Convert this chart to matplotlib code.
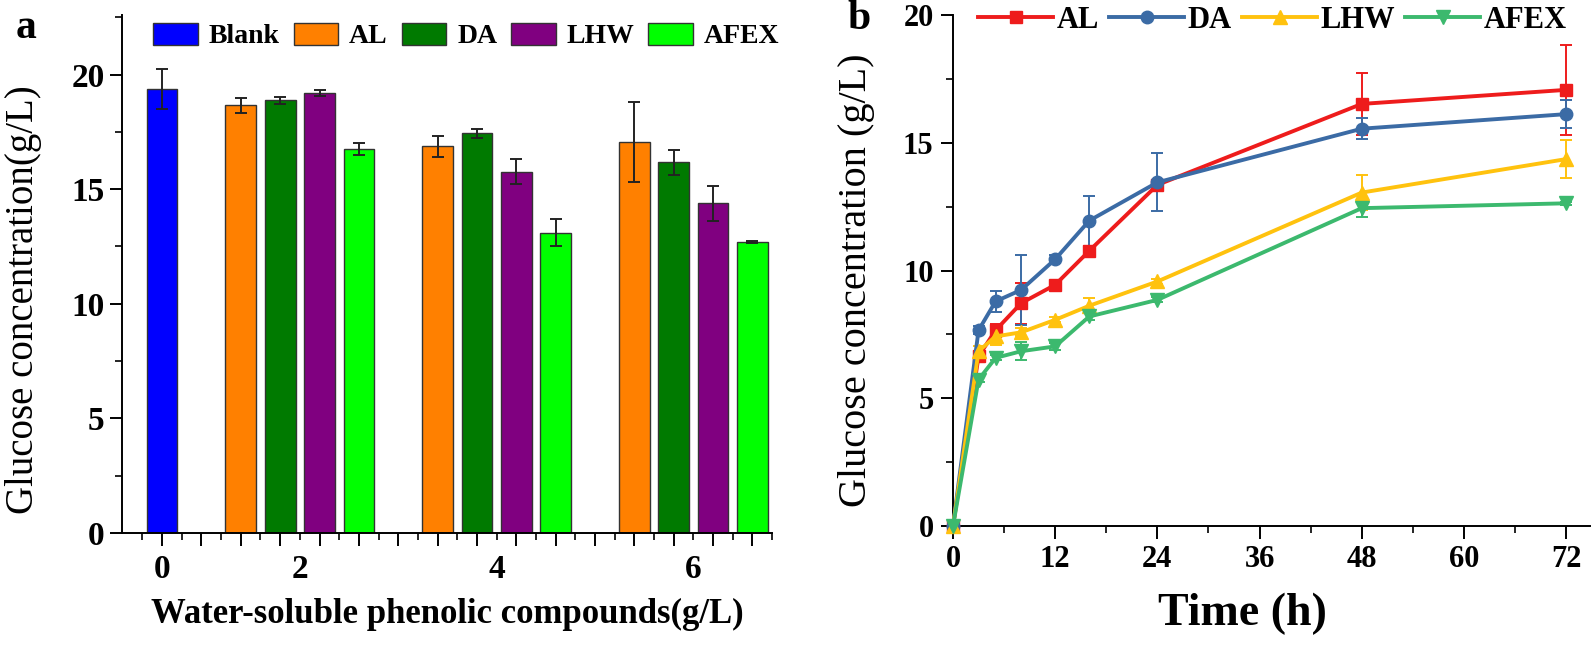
import numpy as np
import matplotlib
matplotlib.use("Agg")
import matplotlib.pyplot as plt
from matplotlib.ticker import MultipleLocator
from matplotlib.transforms import blended_transform_factory
from matplotlib.lines import Line2D

plt.rcParams['font.family'] = ['Liberation Serif', 'DejaVu Serif']

# ---------------- Panel a data ----------------
group_labels = ['0', '2', '4', '6']
bar_series = ['Blank', 'AL', 'DA', 'LHW', 'AFEX']
blank_mean = [19.38]
blank_err = [0.87]
al_bar = [18.66, 16.87, 17.06]
al_bar_err = [0.34, 0.45, 1.73]
da_bar = [18.87, 17.44, 16.17]
da_bar_err = [0.17, 0.19, 0.54]
lhw_bar = [19.20, 15.76, 14.38]
lhw_bar_err = [0.13, 0.55, 0.76]
afex_bar = [16.75, 13.10, 12.69]
afex_bar_err = [0.26, 0.59, 0.03]

# ---------------- Panel b data ----------------
time_h = [0, 3, 5, 8, 12, 16, 24, 48, 72]
al_line = [0, 6.64, 7.66, 8.72, 9.44, 10.77, 13.35, 16.52, 17.07]
al_line_err = [0, 0.15, 0.25, 0.80, 0.10, 0.15, 0.15, 1.20, 1.75]
da_line = [0, 7.66, 8.79, 9.24, 10.44, 11.95, 13.45, 15.55, 16.12]
da_line_err = [0, 0.15, 0.40, 1.38, 0.15, 0.98, 1.13, 0.40, 0.55]
lhw_line = [0, 6.84, 7.42, 7.58, 8.07, 8.62, 9.57, 13.05, 14.36]
lhw_line_err = [0, 0.20, 0.35, 0.15, 0.10, 0.30, 0.10, 0.70, 0.75]
afex_line = [0, 5.73, 6.58, 6.84, 7.03, 8.20, 8.85, 12.44, 12.63]
afex_line_err = [0, 0.10, 0.10, 0.35, 0.15, 0.15, 0.10, 0.35, 0.05]
line_series = ['AL', 'DA', 'LHW', 'AFEX']

W, H = 1595, 645
fig = plt.figure(figsize=(W / 100, H / 100), dpi=100)

# ================= Panel a =================
axa = fig.add_axes([122 / W, 1 - 533 / H, (772 - 122) / W, (533 - 15) / H])
bar_colors = ['#0000FF', '#FF8000', '#007A00', '#800080', '#00FF00']
bw = 0.78
ekw = dict(ecolor='#222222', elinewidth=1.4, capsize=4, capthick=1.4)
# Blank at slot 0; groups of four bars start at slots 2, 7, 12
axa.bar([0], blank_mean, bw, yerr=blank_err, color=bar_colors[0],
        edgecolor='#333333', linewidth=1, label='Blank', error_kw=ekw)
group_start = np.array([2, 7, 12])
vals = [al_bar, da_bar, lhw_bar, afex_bar]
errs = [al_bar_err, da_bar_err, lhw_bar_err, afex_bar_err]
for i, (v, e) in enumerate(zip(vals, errs)):
    axa.bar(group_start + i, v, bw, yerr=e, color=bar_colors[i + 1],
            edgecolor='#333333', linewidth=1, label=bar_series[i + 1], error_kw=ekw)

axa.set_xlim(-1.02, 15.5)
axa.set_ylim(0, 22.6)
axa.spines['top'].set_visible(False)
axa.spines['right'].set_visible(False)
for s in ['left', 'bottom']:
    axa.spines[s].set_linewidth(1.4)
axa.set_xticks(np.arange(0, 16))
axa.set_xticks(np.arange(-0.5, 15.6, 1.0), minor=True)
axa.set_xticklabels([])
axa.yaxis.set_major_locator(MultipleLocator(5))
axa.yaxis.set_minor_locator(MultipleLocator(2.5))
axa.tick_params(axis='both', which='major', direction='out', length=9, width=1.4,
                labelsize=24)
axa.tick_params(axis='both', which='minor', direction='out', length=5, width=1.2)
for lab in axa.get_yticklabels():
    lab.set_fontweight('bold')
trans = blended_transform_factory(axa.transData, axa.transAxes)
label_pos = [0] + list(group_start + 1.5)
for p, t in zip(label_pos, group_labels):
    axa.text(p, -0.04, t, transform=trans, ha='center', va='top',
             fontsize=24, fontweight='bold')
axa.set_ylabel('Glucose concentration(g/L)', fontsize=28)
axa.yaxis.set_label_coords(-0.123, 0.45)
axa.set_xlabel('Water-soluble phenolic compounds(g/L)', fontsize=25,
               fontweight='bold')
axa.xaxis.set_label_coords(0.5, -0.125)
axa.legend(ncol=5, loc='upper left', bbox_to_anchor=(0.048, 0.985),
           frameon=False, prop={'size': 20, 'weight': 'bold'},
           handlelength=1.6, handleheight=0.85, handletextpad=0.4,
           columnspacing=0.5, borderaxespad=0.0, borderpad=0.0)
fig.text(16 / W, 1 - 28 / H, 'a', fontsize=30, fontweight='bold', va='center')

# ================= Panel b =================
axb = fig.add_axes([953 / W, 1 - 526 / H, (1590 - 953) / W, (526 - 15) / H])
line_colors = ['#EE1C1C', '#3B6BA5', '#FFC20E', '#3CB96E']
markers = ['s', 'o', '^', 'v']
msizes = [9, 9, 10.5, 10.5]
ys = [al_line, da_line, lhw_line, afex_line]
yerrs = [al_line_err, da_line_err, lhw_line_err, afex_line_err]
for y, e, c, m, ms, name in zip(ys, yerrs, line_colors, markers, msizes, line_series):
    axb.errorbar(time_h, y, yerr=e, color=c, marker=m, markersize=ms,
                 linewidth=2.8, elinewidth=1.4, capsize=4, capthick=1.4,
                 label=name, clip_on=False, zorder=3)
axb.set_xlim(0, 74.8)
axb.set_ylim(0, 20)
axb.spines['top'].set_visible(False)
axb.spines['right'].set_visible(False)
for s in ['left', 'bottom']:
    axb.spines[s].set_linewidth(1.4)
axb.xaxis.set_major_locator(MultipleLocator(12))
axb.xaxis.set_minor_locator(MultipleLocator(6))
axb.yaxis.set_major_locator(MultipleLocator(5))
axb.yaxis.set_minor_locator(MultipleLocator(2.5))
axb.tick_params(axis='both', which='major', direction='out', length=9, width=1.4,
                labelsize=22, pad=5)
axb.tick_params(axis='both', which='minor', direction='out', length=5, width=1.2)
for lab in axb.get_xticklabels() + axb.get_yticklabels():
    lab.set_fontweight('bold')
axb.set_ylabel('Glucose concentration (g/L)', fontsize=29)
axb.yaxis.set_label_coords(-0.122, 0.48)
axb.set_xlabel('Time (h)', fontsize=33, fontweight='bold')
axb.xaxis.set_label_coords(0.455, -0.13)
handles = [Line2D([], [], color=c, marker=m, markersize=ms, linewidth=2.8)
           for c, m, ms in zip(line_colors, markers, msizes)]
axb.legend(handles, line_series, ncol=4, loc='center left',
           bbox_to_anchor=(0.04, 0.99), frameon=False,
           prop={'size': 22, 'weight': 'bold'}, handlelength=2.45,
           handletextpad=0.1, columnspacing=0.35, borderaxespad=0.0,
           borderpad=0.0)
fig.text(847 / W, 1 - 19 / H, 'b', fontsize=30, fontweight='bold', va='center')

fig.savefig('out.png', dpi=100)
